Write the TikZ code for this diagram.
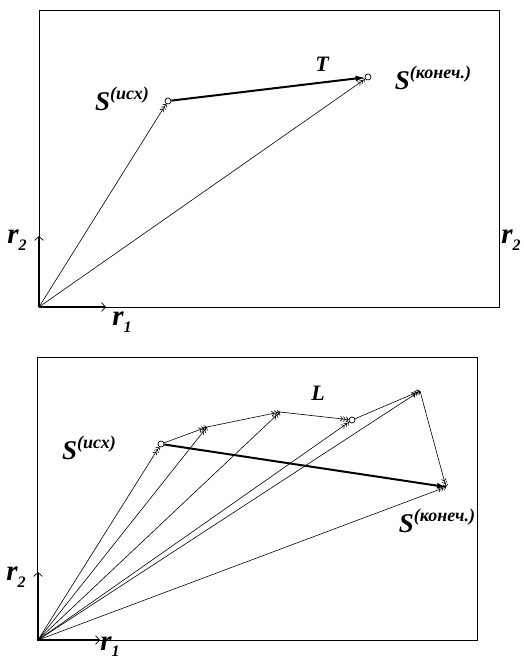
\documentclass[tikz,border=0pt]{standalone}
\usepackage{fontspec}
\setmainfont{Liberation Serif}
\usetikzlibrary{arrows.meta,positioning}
\newcommand{\Slbl}[1]{S\raisebox{0.38em}{\fontsize{18}{18}\selectfont(#1)}}
\newcommand{\rlbl}[1]{r\raisebox{-0.22em}{\fontsize{16}{16}\selectfont #1}}
\tikzset{
  lbl/.style={font=\fontsize{27}{27}\selectfont\bfseries\itshape, inner sep=0pt},
  rlb/.style={font=\fontsize{29}{29}\selectfont\bfseries\itshape, inner sep=0pt},
  smlbl/.style={font=\fontsize{22}{22}\selectfont\bfseries\itshape, inner sep=0pt},
  pt/.style={circle, draw, fill=white, line width=0.7pt, inner sep=0pt, minimum size=6pt},
  vecarr/.style={-{Straight Barb[length=2.2pt,width=5pt] Straight Barb[length=2.2pt,width=5pt] Straight Barb[length=2.2pt,width=5pt]}, line width=0.6pt},
  bigarr/.style={-{Latex[length=9pt,width=6pt]}, line width=2pt},
  axarr/.style={-{Straight Barb[length=4pt,width=9pt,line width=0.7pt]}, line width=1.6pt},
  frame/.style={line width=0.9pt}
}
\begin{document}
\begin{tikzpicture}[x=1pt, y=-1pt]
\useasboundingbox (0,0) rectangle (523,659);
\draw[frame] (39,10) rectangle (499,307);
\coordinate (o) at (39,307);
\coordinate (a1) at (106,307);
\coordinate (a2) at (39,236);
\node[pt] (si) at (168,101) {};
\node[pt] (sk) at (368,77) {};
\draw[axarr] (o) -- (a1);
\draw[axarr] (o) -- (a2);
\draw[vecarr] (o) -- (si);
\draw[vecarr] (o) -- (sk);
\draw[bigarr] (si) -- (sk);
\node[lbl] (lsi) at (122,99) {\Slbl{исх}};
\node[lbl] (lsk) at (433,78) {\Slbl{конеч.}};
\node[smlbl] (lt) at (322,64) {T};
\node[rlb] (lr1) at (122,322) {\rlbl{1}};
\node[rlb] (lr2) at (17,240) {\rlbl{2}};
\node[rlb] (lr2b) at (511,240) {\rlbl{2}};

\draw[frame] (37,357) rectangle (477,640);
\coordinate (o2) at (38,640);
\coordinate (b1) at (100,640);
\coordinate (b2) at (38,572);
\node[pt] (p0) at (161,444) {};
\coordinate (p1) at (207,427);
\coordinate (p2) at (280,412);
\node[pt] (p3) at (352,420) {};
\coordinate (p4) at (420,391);
\coordinate (p5) at (446,487);
\draw[axarr] (o2) -- (b1);
\draw[axarr] (o2) -- (b2);
\foreach \p in {p0,p1,p2,p3,p4,p5}
  \draw[vecarr] (o2) -- (\p);
\draw[vecarr] (p0) -- (p1);
\draw[vecarr] (p1) -- (p2);
\draw[vecarr] (p2) -- (p3);
\draw[vecarr] (p3) -- (p4);
\draw[vecarr] (p4) -- (p5);
\draw[bigarr] (p0) -- (p5);
\node[lbl] (lp0) at (89,448) {\Slbl{исх}};
\node[lbl] (lp5) at (437,521) {\Slbl{конеч.}};
\node[smlbl] (ll) at (318,393) {L};
\node[rlb, anchor=south] (lb1) at (110,657) {\rlbl{1}};
\node[rlb] (lb2) at (16,577) {\rlbl{2}};
\end{tikzpicture}
\end{document}
